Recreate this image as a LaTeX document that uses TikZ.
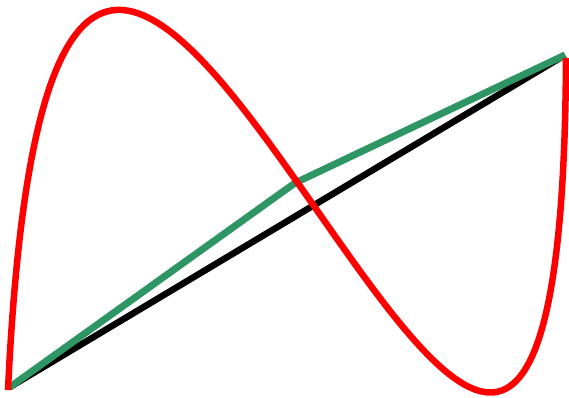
\documentclass[tikz,border=0pt]{standalone}
\definecolor{mygreen}{RGB}{46,150,100}
\begin{document}
\begin{tikzpicture}[x=1pt,y=-1pt,
  curveline/.style={draw=red,line width=6.5pt},
  polyline/.style={draw=mygreen,line width=7pt,line join=miter},
  chordline/.style={draw=black,line width=6.5pt}]
\useasboundingbox (0,0) rectangle (569,397);
\coordinate (A) at (10,387);
\coordinate (B) at (565,55);
\coordinate (M) at (295,183);
\coordinate (S) at (8,390);
\coordinate (E) at (566,58);
\coordinate (C1) at (61,-736);
\coordinate (C2) at (561,1102);
\draw[chordline] (A) -- (B);
\draw[polyline] (A) -- (M) -- (B);
\draw[curveline] (S) .. controls (C1) and (C2) .. (E);
\end{tikzpicture}
\end{document}
